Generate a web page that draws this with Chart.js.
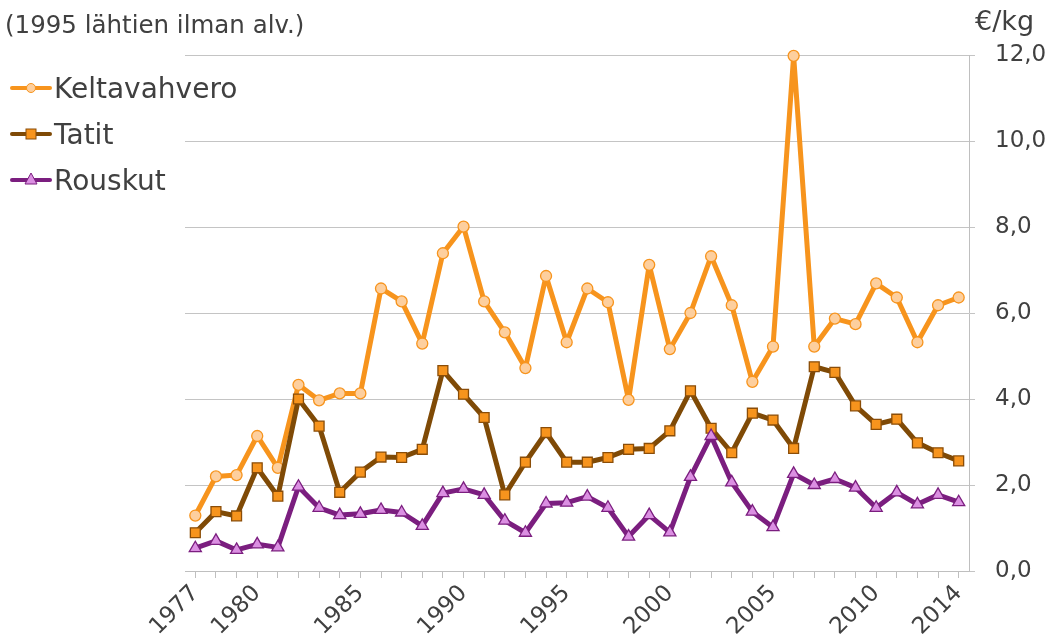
<!DOCTYPE html>
<html>
<head>
<meta charset="utf-8">
<script src="https://cdn.jsdelivr.net/npm/chart.js@4/dist/chart.umd.min.js"></script>
<style>
  html, body { margin: 0; padding: 0; background: #fff; }
  #wrap { position: relative; width: 1053px; height: 643px; overflow: hidden; font-family: 'DejaVu Sans', Verdana, sans-serif; color: #404040; }
  #c { position: absolute; left: 0; top: 0; }
  .txt { position: absolute; white-space: nowrap; }
  #subtitle { left: 5px; top: 10px; font-size: 24.5px; }
  #unit { left: 975px; top: 5px; font-size: 27px; }
  .leg { position: absolute; left: 10px; height: 34px; display: flex; align-items: center; font-size: 28px; white-space: nowrap; }
  .leg svg { margin-right: 2px; }
</style>
</head>
<body>
<div id="wrap">
  <canvas id="c" width="1053" height="643"></canvas>
  <div class="txt" id="subtitle">(1995 lähtien ilman alv.)</div>
  <div class="txt" id="unit">€/kg</div>
  <div id="legend"></div>
</div>
<script>
const years = [1977,1978,1979,1980,1981,1982,1983,1984,1985,1986,1987,1988,1989,1990,1991,1992,1993,1994,1995,1996,1997,1998,1999,2000,2001,2002,2003,2004,2005,2006,2007,2008,2009,2010,2011,2012,2013,2014];
const shownYears = [1977,1980,1985,1990,1995,2000,2005,2010,2014];
const keltavahvero = [1.29,2.20,2.23,3.14,2.40,4.33,3.97,4.13,4.13,6.57,6.27,5.29,7.39,8.01,6.27,5.55,4.72,6.86,5.32,6.57,6.25,3.98,7.12,5.16,6.00,7.32,6.18,4.40,5.22,11.98,5.22,5.87,5.74,6.69,6.36,5.32,6.18,6.36];
const tatit = [0.89,1.38,1.28,2.40,1.74,4.00,3.37,1.83,2.30,2.65,2.64,2.83,4.66,4.11,3.57,1.77,2.53,3.22,2.53,2.53,2.64,2.83,2.85,3.26,4.19,3.32,2.75,3.67,3.51,2.85,4.75,4.62,3.84,3.41,3.53,2.98,2.75,2.56];
const rouskut = [0.53,0.70,0.49,0.62,0.55,1.96,1.47,1.30,1.33,1.42,1.36,1.05,1.81,1.91,1.77,1.17,0.89,1.57,1.59,1.73,1.47,0.80,1.30,0.90,2.19,3.14,2.06,1.38,1.02,2.26,2.00,2.14,1.94,1.47,1.83,1.55,1.77,1.60];
const yMin = 0, yMax = 12, yStep = 2;

const seriesNames = ['Keltavahvero','Tatit','Rouskut'];
const styles = [
  {line:'#F7941D', fill:'#FDCF9E', stroke:'#F7941D', shape:'circle', r:5.5, order:3},
  {line:'#7F4A06', fill:'#F7941D', stroke:'#8A4D08', shape:'rect', r:7, order:2},
  {line:'#7B1E7F', fill:'#DB8FE2', stroke:'#7B1E7F', shape:'triangle', r:7, order:1}
];
const seriesData = [keltavahvero, tatit, rouskut];

Chart.defaults.font.family = "'DejaVu Sans', Verdana, sans-serif";
Chart.defaults.color = '#404040';

const datasets = seriesData.map((d, i) => ({
  label: seriesNames[i],
  data: d,
  borderColor: styles[i].line,
  borderWidth: 5,
  borderJoinStyle: 'round',
  borderCapStyle: 'round',
  pointStyle: styles[i].shape,
  pointRadius: styles[i].r,
  pointBackgroundColor: styles[i].fill,
  pointBorderColor: styles[i].stroke,
  pointBorderWidth: 1.3,
  tension: 0,
  clip: false,
  order: styles[i].order
}));

new Chart(document.getElementById('c'), {
  type: 'line',
  data: { labels: years.map(String), datasets },
  options: {
    responsive: false,
    animation: false,
    layout: { padding: { left: 185, top: 55, right: 0, bottom: 0 } },
    plugins: { legend: { display: false }, tooltip: { enabled: false }, title: { display: false } },
    scales: {
      x: {
        offset: true,
        grid: { offset: false, drawOnChartArea: false, drawTicks: true, tickLength: 7, color: '#BFBFBF', lineWidth: 1 },
        border: { color: '#BFBFBF', width: 1 },
        ticks: {
          autoSkip: false, maxRotation: 45, minRotation: 45, padding: 2,
          font: { size: 23 }, color: '#404040',
          callback: function(v, i) { return shownYears.includes(years[i]) ? String(years[i]) : ''; }
        },
        afterFit: function(s) { s.height = 72; }
      },
      y: {
        position: 'right', min: yMin, max: yMax,
        grid: { color: '#C4C4C4', lineWidth: 1, tickLength: 6 },
        border: { color: '#BFBFBF', width: 1 },
        ticks: {
          stepSize: yStep, padding: 20, font: { size: 23 }, color: '#404040',
          callback: v => v.toFixed(1).replace('.', ',')
        },
        afterFit: function(s) { s.width = 84; }
      }
    }
  }
});

// legend (HTML, real text)
const legend = document.getElementById('legend');
const legTops = [71, 117, 163];
seriesNames.forEach((name, i) => {
  const st = styles[i];
  let marker = '';
  if (st.shape === 'circle') marker = `<circle cx="21" cy="10" r="4.5" fill="${st.fill}" stroke="${st.stroke}" stroke-width="1"/>`;
  else if (st.shape === 'rect') marker = `<rect x="16" y="5" width="10" height="10" fill="${st.fill}" stroke="${st.stroke}" stroke-width="1"/>`;
  else marker = `<polygon points="21,3 27,14 15,14" fill="${st.fill}" stroke="${st.stroke}" stroke-width="1"/>`;
  const div = document.createElement('div');
  div.className = 'leg';
  div.style.top = legTops[i] + 'px';
  div.innerHTML = `<svg width="42" height="20"><line x1="2" y1="10" x2="40" y2="10" stroke="${st.line}" stroke-width="4" stroke-linecap="round"/>${marker}</svg><span>${name}</span>`;
  legend.appendChild(div);
});
</script>
</body>
</html>
